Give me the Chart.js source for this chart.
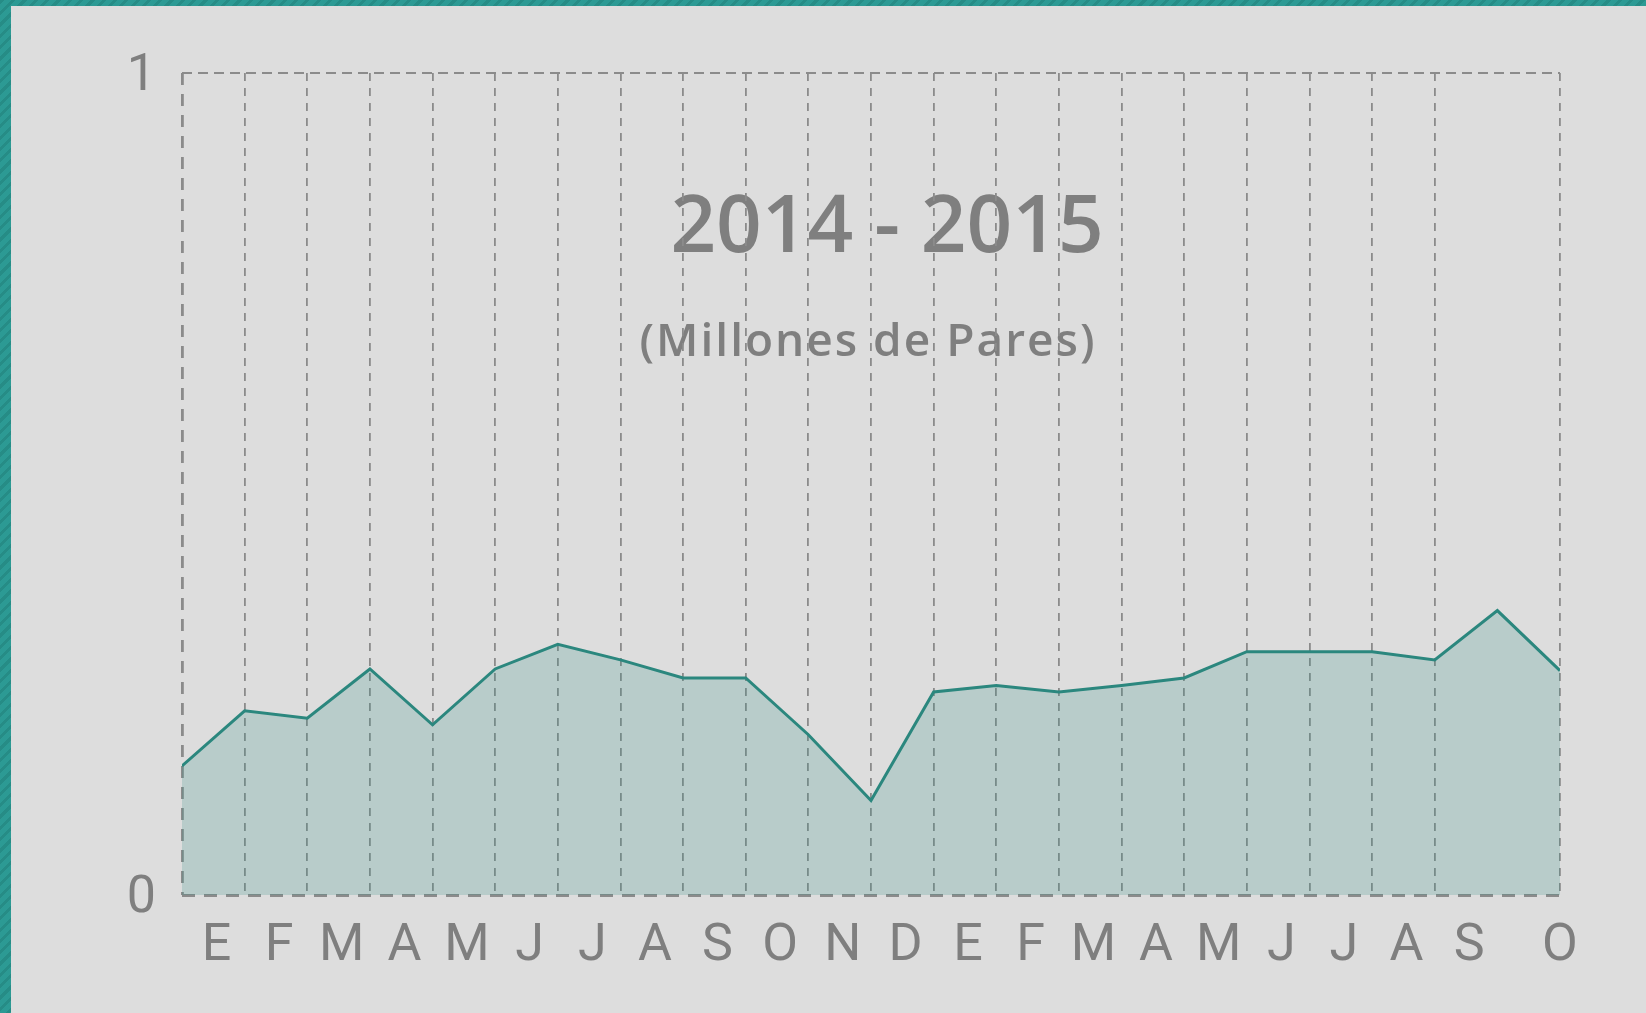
<!DOCTYPE html>
<html>
<head>
<meta charset="utf-8">
<script src="https://cdn.jsdelivr.net/npm/chart.js@4/dist/chart.umd.min.js"></script>
<style>
    html, body { margin: 0; padding: 0; }
    body {
        width: 1646px; height: 1013px; overflow: hidden; position: relative;
        background: repeating-linear-gradient(-45deg, #2c9a94 0 5px, #268c86 5px 8px);
    }
    #panel {
        position: absolute; left: 11px; top: 6px; width: 1635px; height: 1007px;
        background: #dddddd;
    }
</style>
</head>
<body>
<div id="panel"><canvas id="chart-pares"></canvas></div>
<script>
// Meses (E = enero ... O = octubre), 2014 - 2015
const meses = ['E', 'F', 'M', 'A', 'M', 'J', 'J', 'A', 'S', 'O', 'N', 'D',
               'E', 'F', 'M', 'A', 'M', 'J', 'J', 'A', 'S', 'O'];

// Millones de pares (23 puntos de la linea)
const pares = [0.157, 0.224, 0.215, 0.275, 0.207, 0.275, 0.305, 0.286, 0.264, 0.264,
               0.195, 0.115, 0.247, 0.255, 0.247, 0.255, 0.264, 0.296, 0.296, 0.296,
               0.286, 0.346, 0.273];

const yTicks = [0, 1];

const titulo = '2014 - 2015';
const subtitulo = '(Millones de Pares)';

const GRIS = '#7f7f7f';
const GRID = '#8b8b8b';

// texto dentro del area del grafico
const tituloPlugin = {
    id: 'tituloInterno',
    beforeDraw(chart) {
        const ctx = chart.ctx;
        ctx.save();
        ctx.fillStyle = GRIS;
        ctx.textAlign = 'center';
        ctx.textBaseline = 'alphabetic';
        ctx.font = '600 80px "Open Sans"';
        ctx.fillText(titulo, 876, 246);
        ctx.font = '600 46px "Open Sans"';
        ctx.letterSpacing = '2px';
        ctx.fillText(subtitulo, 857, 350);
        ctx.restore();
    }
};

const canvas = document.getElementById('chart-pares');
window.chartPares = new Chart(canvas, {
    type: 'line',
    data: {
        datasets: [{
            label: 'Pares',
            data: pares.map((v, i) => ({ x: i, y: v })),
            borderColor: '#2b877e',
            borderWidth: 3,
            backgroundColor: 'rgba(42, 138, 128, 0.2)',
            fill: 'origin',
            tension: 0,
            pointRadius: 0,
            xAxisID: 'x',
            yAxisID: 'y'
        }]
    },
    options: {
        responsive: true,
        maintainAspectRatio: false,
        animation: false,
        layout: { padding: { left: 0, right: 86, top: 67, bottom: 0 } },
        plugins: { legend: { display: false }, tooltip: { enabled: false } },
        scales: {
            x: {
                type: 'linear',
                position: 'bottom',
                min: 0,
                max: pares.length - 1,
                afterBuildTicks: s => {
                    // una linea por mes, sin la del penultimo punto
                    s.ticks = pares.map((v, i) => ({ value: i }))
                        .filter(t => t.value !== pares.length - 2);
                },
                afterFit: s => { s.height = 0; },
                ticks: { display: false },
                grid: {
                    drawTicks: false,
                    color: GRID,
                    lineWidth: c => c.index === 0 ? 2.8 : 1.8
                },
                border: {
                    display: false,
                    dash: c => c.index === 0 ? [12, 9] : [8, 7]
                }
            },
            x2: {
                type: 'linear',
                position: 'bottom',
                min: 0,
                max: pares.length - 1,
                afterBuildTicks: s => {
                    s.ticks = meses.map((m, i) => ({
                        value: i === meses.length - 1 ? pares.length - 1 : i + 0.55
                    }));
                },
                afterFit: s => { s.height = 118; },
                grid: { display: false },
                border: { display: false },
                ticks: {
                    autoSkip: false,
                    maxRotation: 0,
                    padding: 13,
                    color: GRIS,
                    font: { family: 'Roboto', size: 52 },
                    callback: (v, i) => meses[i]
                }
            },
            y: {
                min: 0,
                max: 1,
                afterBuildTicks: s => { s.ticks = yTicks.map(v => ({ value: v })); },
                afterFit: s => { s.width = 171; },
                grid: {
                    drawTicks: false,
                    color: GRID,
                    lineWidth: c => c.tick && c.tick.value === 0 ? 3 : 2
                },
                border: {
                    display: false,
                    dash: c => c.tick && c.tick.value === 0 ? [13, 9] : [10, 6]
                },
                ticks: {
                    padding: 26,
                    labelOffset: 4,
                    color: GRIS,
                    font: { family: 'Roboto', size: 52 },
                    callback: v => String(v)
                }
            }
        }
    },
    plugins: [tituloPlugin]
});
</script>
</body>
</html>
